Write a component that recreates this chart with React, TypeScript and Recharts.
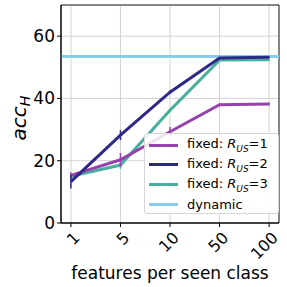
import { ComposedChart, Line, XAxis, YAxis, CartesianGrid, ReferenceLine, ReferenceArea, ErrorBar, Label } from 'recharts'

// ---------------------------------------------------------------------------
// Data
// ---------------------------------------------------------------------------

const categories = ['1', '5', '10', '50', '100']
const fixedR1 = [15.3, 20.3, 29.3, 38.0, 38.2]
const fixedR1Err = [1.0, 2.2, 1.5, 0.4, 0.4]
const fixedR2 = [13.3, 28.2, 42.0, 53.0, 53.2]
const fixedR2Err = [2.2, 1.6, 0.6, 0.3, 0.3]
const fixedR3 = [15.0, 18.6, 36.2, 52.3, 52.4]
const fixedR3Err = [0.8, 1.2, 0.6, 0.3, 0.3]
const dynamicValue = 53.5
const yTicks = [0, 20, 40, 60]

const COLORS = {
  r1: '#9642aa',
  r2: '#2e2888',
  r3: '#46b09c',
  dyn: '#88ccec',
}

const FONT = '"DejaVu Sans", sans-serif'

const data = categories.map((c, i) => ({
  x: i,
  r1: fixedR1[i],
  r1e: fixedR1Err[i],
  r2: fixedR2[i],
  r2e: fixedR2Err[i],
  r3: fixedR3[i],
  r3e: fixedR3Err[i],
}))

const legendItems = [
  { key: 'r1', color: COLORS.r1, n: '1' },
  { key: 'r2', color: COLORS.r2, n: '2' },
  { key: 'r3', color: COLORS.r3, n: '3' },
  { key: 'dyn', color: COLORS.dyn, n: null },
]

// ---------------------------------------------------------------------------
// Pieces
// ---------------------------------------------------------------------------

function RotatedTick(props: any) {
  const { x, y, payload } = props
  return (
    <g transform={`translate(${x + 6},${y + 6})`}>
      <text transform="rotate(-45)" textAnchor="end" dominantBaseline="central" fontSize={16} fill="#000" fontFamily={FONT}>
        {categories[payload.value]}
      </text>
    </g>
  )
}

function YLabel() {
  return (
    <text transform="translate(26,118) rotate(-90)" textAnchor="middle" fontFamily={FONT} fontSize={20} fill="#000">
      <tspan fontStyle="italic">acc</tspan>
      <tspan fontStyle="italic" fontSize={14} dy={4}>H</tspan>
    </text>
  )
}

function LegendBox() {
  return (
    <div
      style={{
        position: 'absolute',
        left: 144,
        top: 133,
        width: 135,
        height: 81,
        background: 'rgba(255,255,255,0.85)',
        border: '1px solid #d6d6d6',
        borderRadius: 3,
        boxSizing: 'border-box',
        fontFamily: FONT,
        fontSize: 13,
        color: '#000',
      }}
    >
      {legendItems.map((it, i) => (
        <div key={it.key} style={{ position: 'absolute', left: 4, top: 3 + i * 19.7, height: 16, display: 'flex', alignItems: 'center', whiteSpace: 'nowrap' }}>
          <div style={{ width: 29, height: 3, background: it.color, marginRight: 9 }} />
          {it.n ? (
            <span>
              fixed: <i>R</i>
              <sub style={{ fontSize: 9, fontStyle: 'italic' }}>US</sub>={it.n}
            </span>
          ) : (
            <span>dynamic</span>
          )}
        </div>
      ))}
    </div>
  )
}

// ---------------------------------------------------------------------------
// Chart
// ---------------------------------------------------------------------------

export default function App() {
  return (
    <div style={{ position: 'absolute', left: 0, top: 0, width: 287, height: 287, background: '#fff' }}>
      <ComposedChart width={287} height={287} data={data} margin={{ top: 5, right: 8, bottom: 0, left: 0 }}>
        <CartesianGrid stroke="#d4d4d4" strokeWidth={1} />
        <XAxis
          dataKey="x"
          type="number"
          domain={[-0.2, 4.2]}
          ticks={[0, 1, 2, 3, 4]}
          tick={<RotatedTick />}
          tickLine={{ stroke: '#000' }}
          tickSize={4}
          axisLine={{ stroke: '#000' }}
          height={64}
        >
          <Label value="features per seen class" position="insideBottom" offset={8} style={{ fontSize: 17, fontFamily: FONT, fill: '#000' }} />
        </XAxis>
        <YAxis
          type="number"
          domain={[0, 70]}
          ticks={yTicks}
          tick={{ fontSize: 17, fill: '#000', fontFamily: FONT }}
          tickLine={{ stroke: '#000' }}
          tickSize={4}
          axisLine={{ stroke: '#000' }}
          width={61}
          label={<YLabel />}
        />
        <ReferenceArea x1={-0.2} x2={4.2} y1={0} y2={70} fill="none" stroke="#222" strokeWidth={1} />
        <ReferenceLine y={dynamicValue} stroke={COLORS.dyn} strokeWidth={3} />
        <Line dataKey="r3" stroke={COLORS.r3} strokeWidth={3} dot={false} isAnimationActive={false}>
          <ErrorBar dataKey="r3e" width={0} stroke={COLORS.r3} strokeWidth={1.5} direction="y" />
        </Line>
        <Line dataKey="r1" stroke={COLORS.r1} strokeWidth={3} dot={false} isAnimationActive={false}>
          <ErrorBar dataKey="r1e" width={0} stroke={COLORS.r1} strokeWidth={1.5} direction="y" />
        </Line>
        <Line dataKey="r2" stroke={COLORS.r2} strokeWidth={3} dot={false} isAnimationActive={false}>
          <ErrorBar dataKey="r2e" width={0} stroke={COLORS.r2} strokeWidth={1.5} direction="y" />
        </Line>
      </ComposedChart>
      <LegendBox />
    </div>
  )
}
